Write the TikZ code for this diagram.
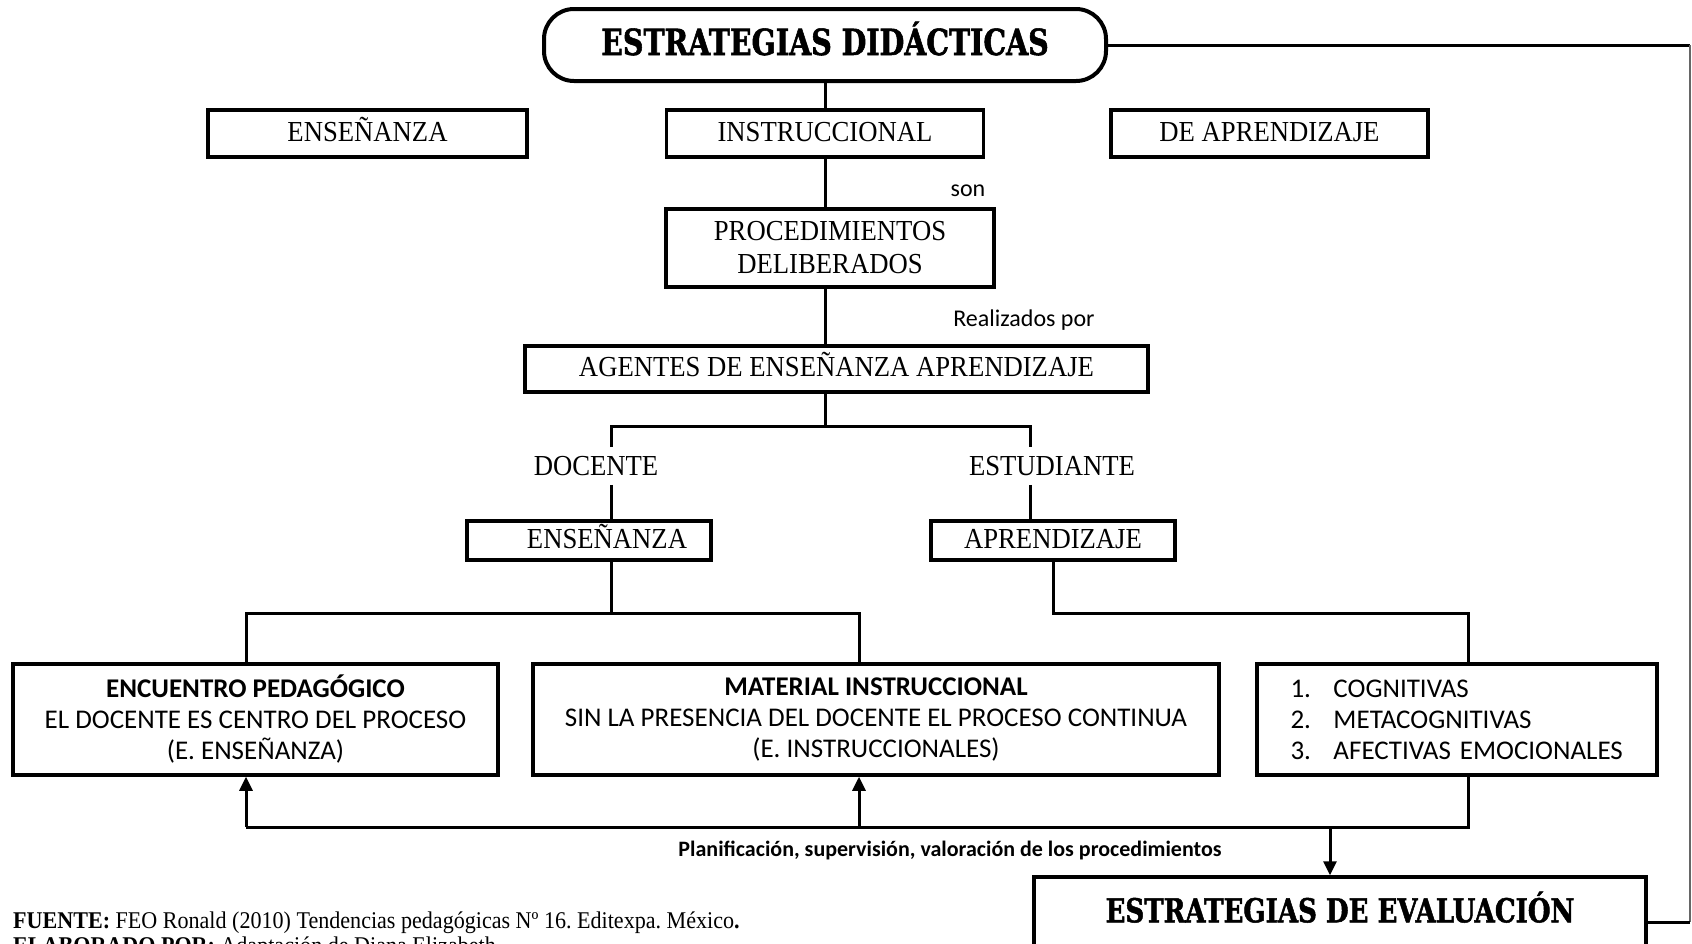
\documentclass[tikz,border=0pt]{standalone}
\usepackage{fontspec}
\setmainfont{Carlito}
\newfontfamily\timesfam[FakeStretch=0.92]{Liberation Serif}
\newfontfamily\slabfam[FakeStretch=0.79, FakeBold=1.5]{DejaVu Serif}
\usetikzlibrary{positioning,arrows.meta,calc}

\newcommand{\boxfont}{\timesfam\fontsize{29}{33}\selectfont}
\newcommand{\headfont}{\slabfam\bfseries\fontsize{36}{40}\selectfont}
\newcommand{\infofont}{\fontsize{27}{31}\selectfont}
\newcommand{\notefont}{\fontsize{24}{28}\selectfont}
\frenchspacing

\begin{document}
\begin{tikzpicture}[
    x=1pt, y=-1pt,
    box/.style={draw, line width=3.5pt, inner sep=0pt, font=\boxfont},
    flatbox/.style={box, text height=20pt, text depth=5pt},
    titlebox/.style={draw, line width=4pt, rounded corners=30pt, inner sep=0pt, font=\headfont},
    infobox/.style={draw, line width=3.5pt, inner sep=0pt, align=center, font=\infofont},
    word/.style={inner xsep=0pt, inner ysep=9pt, font=\boxfont},
    tag/.style={inner sep=0pt, font=\notefont},
    connector/.style={line width=3pt},
    arrowup/.style={line width=3pt, -{Triangle[length=14pt, width=13pt]}}
]
\useasboundingbox (0,0) rectangle (1692,943);

% Title
\node[titlebox, minimum width=562pt, minimum height=72pt, text height=26pt, text depth=6pt] (didac) at (825,45) {ESTRATEGIAS DIDÁCTICAS};

% Three kinds of strategies
\node[flatbox, minimum width=319pt, minimum height=47pt] (ensen) at (367.5,133.5) {ENSEÑANZA};
\node[flatbox, minimum width=317pt, minimum height=47pt] (instr) at (825,133.5) {INSTRUCCIONAL};
\node[flatbox, minimum width=317pt, minimum height=47pt] (deapr) at (1269.5,133.5) {DE APRENDIZAJE};

% Procedimientos / agentes
\node[box, minimum width=328pt, minimum height=78pt, align=center] (proc) at (830,248) {PROCEDIMIENTOS\\DELIBERADOS};
\node[flatbox, minimum width=623pt, minimum height=46pt] (agent) at (836.5,369) {AGENTES DE ENSEÑANZA APRENDIZAJE};
\node[tag] (son) at (968,191) {son};
\node[tag] (realiz) at (1024,320) {Realizados por};

% Docente / estudiante
\node[word] (docen) at (596,466) {DOCENTE};
\node[word] (estud) at (1052,466) {ESTUDIANTE};
\node[flatbox, minimum width=244pt, minimum height=39pt] (ensen2) at (589,540.5) {\hspace*{36pt}ENSEÑANZA};
\node[flatbox, minimum width=244pt, minimum height=39pt] (aprend) at (1053,540.5) {APRENDIZAJE};

% Lower boxes
\node[infobox, minimum width=485pt, minimum height=111pt] (encu) at (255.5,719.5)
    {{\bfseries ENCUENTRO PEDAGÓGICO}\\EL DOCENTE ES CENTRO DEL PROCESO\\(E. ENSEÑANZA)};
\node[infobox, minimum width=686pt, minimum height=111pt] (mater) at (876,719.5)
    {{\bfseries MATERIAL INSTRUCCIONAL}\\SIN LA PRESENCIA DEL DOCENTE EL PROCESO CONTINUA\\(E. INSTRUCCIONALES)};
\node[infobox, minimum width=400pt, minimum height=111pt, align=left, text width=333pt] (cogn) at (1457,719.5)
    {\makebox[43pt][l]{1.}COGNITIVAS\\\makebox[43pt][l]{2.}METACOGNITIVAS\\\makebox[43pt][l]{3.}AFECTIVAS EMOCIONALES};

% Evaluacion
\node[box, minimum width=612pt, minimum height=90pt, text depth=30pt, font=\headfont\fontsize{33}{37}\selectfont] (evalu) at (1340,922) {ESTRATEGIAS DE EVALUACIÓN};
\node[tag, font=\bfseries\fontsize{22}{26}\selectfont] (plan) at (950,850) {Planificación, supervisión, valoración de los procedimientos};

% Vertical spine
\draw[connector] (didac.south) -- (instr.north);
\draw[connector] (instr.south) -- (instr.south |- proc.north);
\draw[connector] (proc.south -| instr.south) -- (instr.south |- agent.north);
\coordinate (split) at (825,426);
\draw[connector] (agent.south -| split) -- (split);
\draw[connector] ([xshift=15pt]docen.north) |- (split) -| ([xshift=-22pt]estud.north);
\draw[connector] ([xshift=15pt]docen.south) -- ([xshift=15pt]docen.south |- ensen2.north);
\draw[connector] ([xshift=-22pt]estud.south) -- ([xshift=-22pt]estud.south |- aprend.north);

% Branches to the lower boxes
\coordinate (ldrop) at (246,613);
\coordinate (mdrop) at (859,613);
\coordinate (rdrop) at (1468,613);
\draw[connector] ([xshift=22pt]ensen2.south) |- (ldrop) -- (ldrop |- encu.north);
\draw[connector] ([xshift=22pt]ensen2.south) |- (mdrop) -- (mdrop |- mater.north);
\draw[connector] (aprend.south) |- (rdrop) -- (rdrop |- cogn.north);

% Feedback line
\coordinate (rback) at (1468,827);
\coordinate (lback) at (246,827);
\coordinate (mback) at (859,827);
\coordinate (eback) at (1330,827);
\draw[connector] (rback |- cogn.south) -- (rback) -- (lback);
\draw[arrowup] (lback) -- (lback |- encu.south);
\draw[arrowup] (mback) -- (mback |- mater.south);
\draw[arrowup] (eback) -- (eback |- evalu.north);

% Outer frame on the right
\coordinate (ne) at (1690,45);
\coordinate (se) at (1690,922);
\draw[connector] (didac.east) -- (ne);
\draw[line width=1.5pt, black!60] (ne) -- (se);
\draw[connector] (se) -- (evalu.east);

% Source
\node[anchor=base west, inner sep=0pt, font=\timesfam\fontsize{24}{28}\selectfont] (fuente) at (13,928)
    {\textbf{FUENTE:} FEO Ronald (2010) Tendencias pedagógicas Nº 16. Editexpa. México\textbf{.}};
\node[anchor=base west, inner sep=0pt, font=\timesfam\fontsize{24}{28}\selectfont] (elab) at (13,953)
    {\textbf{ELABORADO POR:} Adaptación de Diana Elizabeth};

\end{tikzpicture}
\end{document}
